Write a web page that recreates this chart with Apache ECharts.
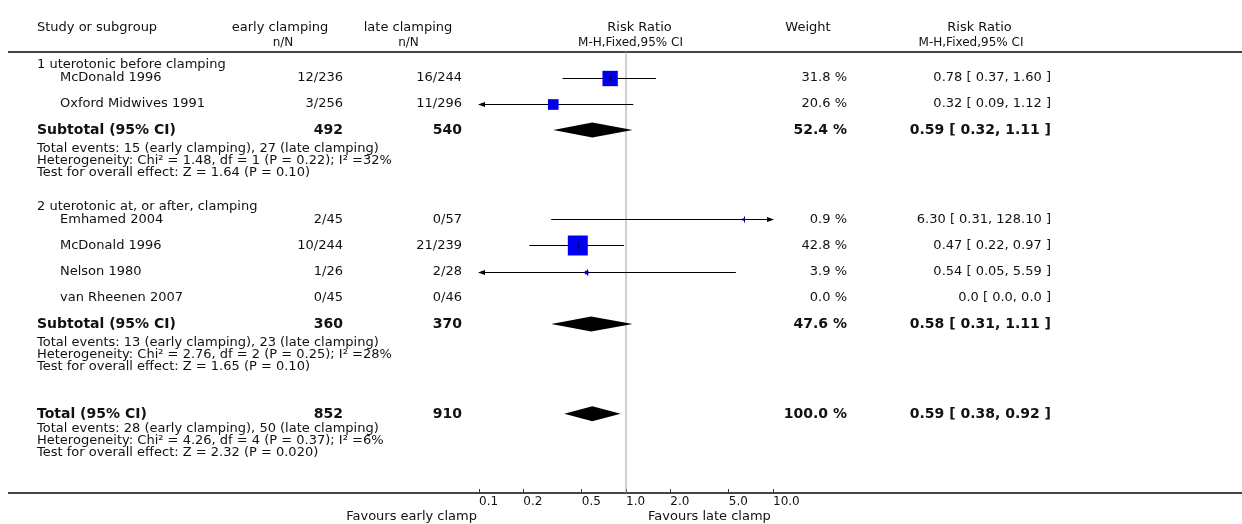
<!DOCTYPE html>
<html><head><meta charset="utf-8">
<script src="https://cdn.jsdelivr.net/npm/echarts@6/dist/echarts.min.js"></script>
<style>html,body{margin:0;padding:0;background:#fff}#c{width:1242px;height:524px}</style>
</head><body><div id="c"></div>
<script>
// ---------- data ----------
const groupTitles = ['1 uterotonic before clamping', '2 uterotonic at, or after, clamping'];
const studyGroup = [0, 0, 1, 1, 1, 1];
const studyNames = ['McDonald 1996', 'Oxford Midwives 1991', 'Emhamed 2004', 'McDonald 1996', 'Nelson 1980', 'van Rheenen 2007'];
const earlyNN = ['12/236', '3/256', '2/45', '10/244', '1/26', '0/45'];
const lateNN = ['16/244', '11/296', '0/57', '21/239', '2/28', '0/46'];
const studyRR = [0.78, 0.32, 6.30, 0.47, 0.54, null];
const studyLow = [0.37, 0.09, 0.31, 0.22, 0.05, null];
const studyHigh = [1.60, 1.12, 128.10, 0.97, 5.59, null];
const studyWeight = [31.8, 20.6, 0.9, 42.8, 3.9, 0.0];

const pooledLabels = ['Subtotal (95% CI)', 'Subtotal (95% CI)', 'Total (95% CI)'];
const pooledEarlyN = [492, 360, 852];
const pooledLateN = [540, 370, 910];
const pooledWeight = [52.4, 47.6, 100.0];
const pooledRR = [0.59, 0.58, 0.59];
const pooledLow = [0.32, 0.31, 0.38];
const pooledHigh = [1.11, 1.11, 0.92];
const pooledNotes = [
  ['Total events: 15 (early clamping), 27 (late clamping)',
   'Heterogeneity: Chi\u00b2 = 1.48, df = 1 (P = 0.22); I\u00b2 =32%',
   'Test for overall effect: Z = 1.64 (P = 0.10)'],
  ['Total events: 13 (early clamping), 23 (late clamping)',
   'Heterogeneity: Chi\u00b2 = 2.76, df = 2 (P = 0.25); I\u00b2 =28%',
   'Test for overall effect: Z = 1.65 (P = 0.10)'],
  ['Total events: 28 (early clamping), 50 (late clamping)',
   'Heterogeneity: Chi\u00b2 = 4.26, df = 4 (P = 0.37); I\u00b2 =6%',
   'Test for overall effect: Z = 2.32 (P = 0.020)']
];
const tickValues = [0.1, 0.2, 0.5, 1, 2, 5, 10];
const tickLabels = ['0.1', '0.2', '0.5', '1.0', '2.0', '5.0', '10.0'];
const headers = ['Study or subgroup', 'early clamping', 'late clamping', 'Risk Ratio', 'Weight', 'Risk Ratio'];
const subHeaders = ['n/N', 'n/N', 'M-H,Fixed,95% CI', 'M-H,Fixed,95% CI'];
const favourLabels = ['Favours early clamp', 'Favours late clamp'];

// ---------- layout (styles) ----------
const FONT = '"DejaVu Sans", Verdana, sans-serif';
const TXT = '#111';
const COL = { label: 37, study: 60, early: 343, late: 462, weight: 847, rr: 1051 };
const ROWGAP = { heading: -0.49, nextGroup: 3.4, total: 3.43 };
const NOTE_OFF = [[0.71, 1.16, 1.61], [0.71, 1.16, 1.61], [0.58, 1.02, 1.46]];

const fmt2 = v => v.toFixed(2);
const rrText = (r, l, h) => r == null ? '0.0 [ 0.0, 0.0 ]' : `${fmt2(r)} [ ${fmt2(l)}, ${fmt2(h)} ]`;

// build rows with positions in row units
const rows = [];
const studyY = [];
const pooledY = [];
let y = 0;
groupTitles.forEach((title, g) => {
  rows.push({ y: y + ROWGAP.heading, cells: [{ t: title, x: COL.label, a: 'left' }] });
  studyNames.forEach((nm, i) => {
    if (studyGroup[i] !== g) return;
    studyY[i] = y;
    rows.push({ y, cells: [
      { t: nm, x: COL.study, a: 'left' },
      { t: earlyNN[i], x: COL.early, a: 'right' },
      { t: lateNN[i], x: COL.late, a: 'right' },
      { t: studyWeight[i].toFixed(1) + ' %', x: COL.weight, a: 'right' },
      { t: rrText(studyRR[i], studyLow[i], studyHigh[i]), x: COL.rr, a: 'right' }
    ]});
    y += 1;
  });
  pooledY[g] = y;
  y += ROWGAP.nextGroup;
});
pooledY[2] = pooledY[1] + ROWGAP.total;
pooledLabels.forEach((lab, k) => {
  const py = pooledY[k];
  rows.push({ y: py, bold: true, cells: [
    { t: lab, x: COL.label, a: 'left' },
    { t: String(pooledEarlyN[k]), x: COL.early, a: 'right' },
    { t: String(pooledLateN[k]), x: COL.late, a: 'right' },
    { t: pooledWeight[k].toFixed(1) + ' %', x: COL.weight, a: 'right' },
    { t: rrText(pooledRR[k], pooledLow[k], pooledHigh[k]), x: COL.rr, a: 'right' }
  ]});
  pooledNotes[k].forEach((n, j) => rows.push({ y: py + NOTE_OFF[k][j], cells: [{ t: n, x: COL.label, a: 'left' }] }));
});

const L = Math.log10;
const XMIN = -1, XMAX = 1, YMIN = -1, YMAX = 15.85;

const studyData = [];
studyRR.forEach((r, i) => {
  if (r == null) return;
  studyData.push([L(r), studyY[i], L(studyLow[i]), L(studyHigh[i]), studyWeight[i]]);
});
const pooledData = pooledRR.map((r, k) => [L(r), pooledY[k], L(pooledLow[k]), L(pooledHigh[k])]);

const crisp = v => Math.round(v) + 0.5;

function renderText(params, api) {
  const r = rows[params.dataIndex];
  const py = api.coord([0, r.y])[1];
  return {
    type: 'group',
    children: r.cells.map(c => ({
      type: 'text',
      style: {
        text: c.t, x: c.x, y: py, align: c.a, verticalAlign: 'middle',
        font: (r.bold ? 'bold 14px ' : '13px ') + FONT, fill: TXT
      }
    }))
  };
}

function renderStudy(params, api) {
  const est = api.value(0), yv = api.value(1), lo = api.value(2), hi = api.value(3), w = api.value(4);
  const pL = api.coord([Math.max(lo, XMIN), yv]);
  const pR = api.coord([Math.min(hi, XMAX), yv]);
  const pc = api.coord([est, yv]);
  const py = crisp(pc[1]);
  const ch = [];
  ch.push({ type: 'line', shape: { x1: pL[0], y1: py, x2: pR[0], y2: py }, style: { stroke: '#000', lineWidth: 1 } });
  if (lo < XMIN) ch.push({ type: 'polygon', shape: { points: [[pL[0] - 1, py], [pL[0] + 6, py - 2.5], [pL[0] + 6, py + 2.5]] }, style: { fill: '#000' } });
  if (hi > XMAX) ch.push({ type: 'polygon', shape: { points: [[pR[0] + 1, py], [pR[0] - 6, py - 2.5], [pR[0] - 6, py + 2.5]] }, style: { fill: '#000' } });
  const s = 2 + w * 0.42;
  ch.push({ type: 'rect', shape: { x: pc[0] - s / 2, y: py - s / 2, width: s, height: s }, style: { fill: '#0000f0' } });
  ch.push({ type: 'line', shape: { x1: Math.round(pc[0]) + 0.5, y1: py - 3, x2: Math.round(pc[0]) + 0.5, y2: py + 3 }, style: { stroke: '#000044', lineWidth: 1 } });
  return { type: 'group', children: ch };
}

function renderDiamond(params, api) {
  const est = api.value(0), yv = api.value(1), lo = api.value(2), hi = api.value(3);
  const a = api.coord([lo, yv]), c = api.coord([est, yv]), b = api.coord([hi, yv]);
  const h = 7.5;
  return { type: 'polygon', shape: { points: [[a[0], a[1]], [c[0], c[1] - h], [b[0], b[1]], [c[0], c[1] + h]] }, style: { fill: '#000' } };
}

const tickLog = tickValues.map(L);
const headerText = (t, x, yy, align, size, weight) => ({
  type: 'text', x, y: yy, silent: true,
  style: { text: t, align, verticalAlign: 'middle', font: (weight || '') + ' ' + size + 'px ' + FONT, fill: TXT }
});

const chart = echarts.init(document.getElementById('c'), null, { renderer: 'canvas' });
chart.setOption({
  animation: false,
  backgroundColor: '#fff',
  grid: { left: 479, right: 469, top: 51.5, bottom: 31, containLabel: false },
  xAxis: {
    type: 'value', min: XMIN, max: XMAX, position: 'bottom',
    axisLine: { show: false, onZero: false },
    splitLine: { show: false },
    axisTick: { show: true, inside: true, length: 4, customValues: tickLog, lineStyle: { color: '#333', width: 1 } },
    axisLabel: {
      customValues: tickLog, align: 'left', margin: 3, fontFamily: FONT, fontSize: 12, color: TXT,
      formatter: v => { let k = 0, d = 1e9; tickLog.forEach((t, i) => { if (Math.abs(t - v) < d) { d = Math.abs(t - v); k = i; } }); return tickLabels[k]; }
    }
  },
  yAxis: { type: 'value', inverse: true, min: YMIN, max: YMAX, show: false },
  graphic: [
    { type: 'line', silent: true, shape: { x1: 8, y1: 52, x2: 1242, y2: 52 }, style: { stroke: '#444', lineWidth: 2 } },
    { type: 'line', silent: true, shape: { x1: 8, y1: 493, x2: 1242, y2: 493 }, style: { stroke: '#444', lineWidth: 2 } },
    headerText(headers[0], 37, 28, 'left', 13),
    headerText(headers[1], 280, 28, 'center', 13),
    headerText(subHeaders[0], 283, 42.5, 'center', 12),
    headerText(headers[2], 408, 28, 'center', 13),
    headerText(subHeaders[1], 408.5, 42.5, 'center', 12),
    headerText(headers[3], 639.5, 28, 'center', 13),
    headerText(subHeaders[2], 630.5, 42.5, 'center', 12),
    headerText(headers[4], 808, 28, 'center', 13),
    headerText(headers[5], 979.5, 28, 'center', 13),
    headerText(subHeaders[3], 971, 42.5, 'center', 12),
    headerText(favourLabels[0], 477, 517, 'right', 13),
    headerText(favourLabels[1], 648, 517, 'left', 13)
  ],
  series: [
    { type: 'line', data: [[0, YMIN], [0, YMAX]], symbol: 'none', silent: true,
      lineStyle: { color: '#a0a0a0', width: 1 }, z: 1 },
    { type: 'custom', renderItem: renderStudy, data: studyData, clip: false, silent: true, z: 3 },
    { type: 'custom', renderItem: renderDiamond, data: pooledData, clip: false, silent: true, z: 3 },
    { type: 'custom', renderItem: renderText, data: rows.map(r => [0, r.y]), clip: false, silent: true, z: 4 }
  ]
});
</script>
</body></html>
